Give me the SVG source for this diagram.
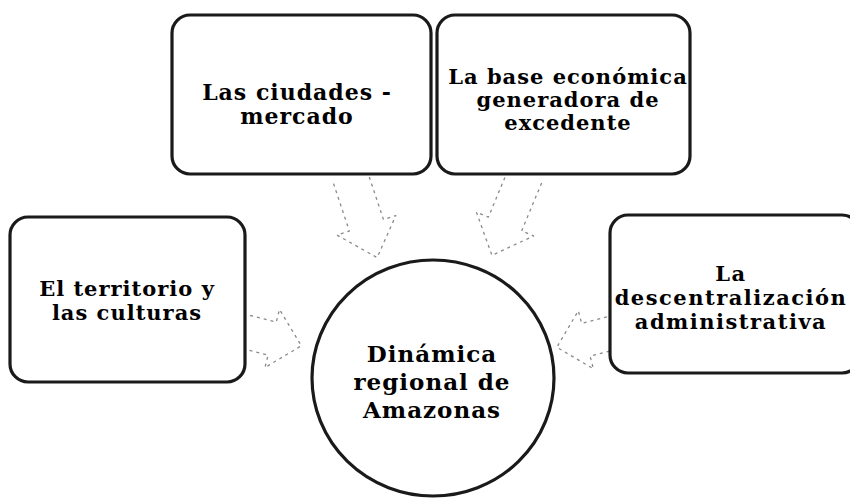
<svg xmlns="http://www.w3.org/2000/svg" width="850" height="498" viewBox="0 0 850 498">
<style>
.box{fill:#fff;stroke:#1a1a1a;stroke-width:3.2}
.t{font-family:"DejaVu Serif","Liberation Serif",serif;font-weight:bold;font-size:21px;letter-spacing:1px;fill:#000;text-anchor:middle}
.s22{font-size:22px}
.s4{letter-spacing:1.5px}
.tc{font-size:23px}
.arr{fill:none;stroke:#8a8a8a;stroke-width:1.3;stroke-dasharray:3 4;stroke-linejoin:round}
</style>
<defs>
<path id="blk" d="M0,-18 L52,-18 L52,-31 L86,0 L52,31 L52,18 L0,18"/>
<path id="blks" d="M0,-17 L27,-17 L27,-30 L57,0 L27,30 L27,17 L0,17"/>
</defs>
<rect width="850" height="498" fill="#fff"/>
<g id="connectors">
<use href="#blk" class="arr" transform="translate(350,176) rotate(71.6)"/>
<use href="#blk" class="arr" transform="translate(525,176) rotate(112.6)"/>
<use href="#blks" class="arr" transform="translate(246,332) rotate(14)"/>
<use href="#blks" class="arr" transform="translate(612,333) rotate(165.5)"/>
</g>
<g id="n1">
<rect class="box" x="172" y="15" width="259" height="159" rx="18"/>
<text class="t s22" x="297" y="100">Las ciudades -</text>
<text class="t s22" x="297" y="124">mercado</text>
</g>
<g id="n2">
<rect class="box" x="437" y="15" width="253" height="159" rx="18"/>
<text class="t" x="568" y="84">La base económica</text>
<text class="t" x="568" y="107">generadora de</text>
<text class="t" x="568" y="130">excedente</text>
</g>
<g id="n3">
<rect class="box" x="10" y="217" width="235" height="165" rx="18"/>
<text class="t" x="127" y="296">El territorio y</text>
<text class="t" x="127" y="320">las culturas</text>
</g>
<g id="n4">
<rect class="box" x="610" y="215" width="250" height="158" rx="18"/>
<text class="t s4" x="731" y="281">La</text>
<text class="t s4" x="731" y="305">descentralización</text>
<text class="t s4" x="731" y="329">administrativa</text>
</g>
<g id="center">
<ellipse class="box" cx="433" cy="378" rx="121" ry="118"/>
<text class="t tc" x="432" y="362">Dinámica</text>
<text class="t tc" x="432" y="390">regional de</text>
<text class="t tc" x="432" y="418">Amazonas</text>
</g>
</svg>
